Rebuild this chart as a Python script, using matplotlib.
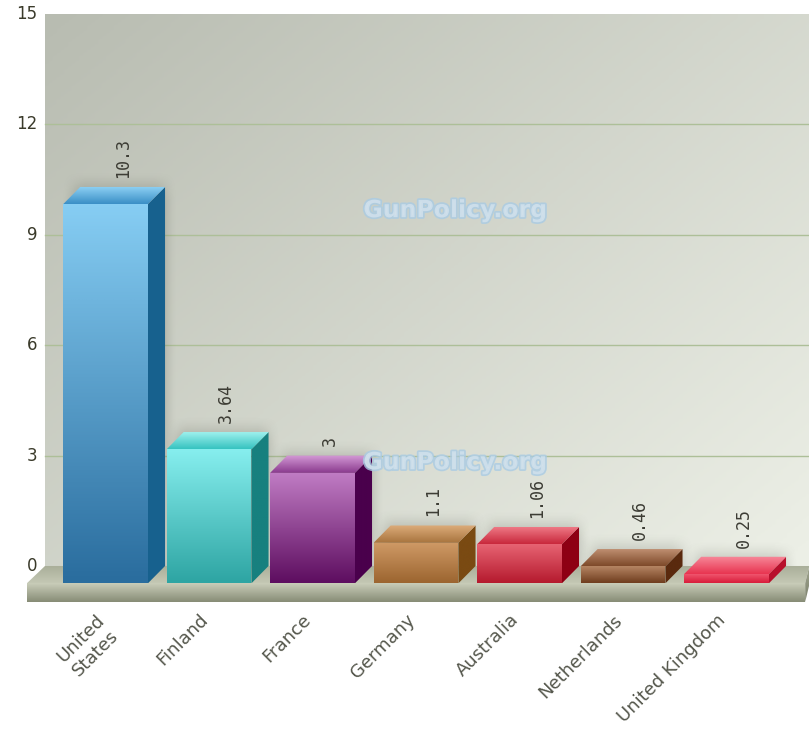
import matplotlib
matplotlib.use("Agg")
import matplotlib.pyplot as plt
import numpy as np
from matplotlib.patches import Polygon
from matplotlib.colors import LinearSegmentedColormap, to_rgb
import matplotlib.patheffects as pe

countries = ["United\nStates", "Finland", "France", "Germany", "Australia",
             "Netherlands", "United Kingdom"]
values = [10.3, 3.64, 3, 1.1, 1.06, 0.46, 0.25]
value_labels = ["10.3", "3.64", "3", "1.1", "1.06", "0.46", "0.25"]
yticks = [0, 3, 6, 9, 12, 15]

# colours per bar: (front top, front bottom, side, top face light, top face dark)
bar_colors = [
    ("#86cdf3", "#2a6d9e", "#17618e", "#8fd2f5", "#3a8fc6"),
    ("#86eeee", "#2ea5a3", "#17807f", "#a3f3f0", "#36c3c0"),
    ("#c07cc4", "#5e0e60", "#4a004c", "#d49ad6", "#8a3a8e"),
    ("#cf9a66", "#9c6530", "#7a4a12", "#dcac7a", "#a8743e"),
    ("#e86574", "#b51a2e", "#8e0014", "#f07c88", "#c8283c"),
    ("#b58563", "#6f3d1e", "#5a2a0e", "#c29274", "#7e4a2a"),
    ("#f25a72", "#d81c3a", "#b8102c", "#f7899a", "#e83450"),
]

W = 0.82     # front face width (category units)
DX = 0.165   # depth offset in x
DY = 0.47    # depth offset in value units

fig = plt.figure(figsize=(8.09, 7.34), dpi=100)
ax = fig.add_axes([25 / 809, 130 / 734, 784 / 809, 590 / 734])
ax.set_axis_off()

x_left_bg = -0.585
x_right = 6.80
x_left_floor = -0.76
x_right_floor = 6.76
floor_bottom = -0.98


def grad_face(verts, c_top, c_bot, z):
    poly = Polygon(verts, closed=True, facecolor="none", edgecolor="none")
    ax.add_patch(poly)
    xs, ys = zip(*verts)
    g = np.linspace(0, 1, 64).reshape(-1, 1)
    cmap = LinearSegmentedColormap.from_list("f", [c_bot, c_top])
    im = ax.imshow(g, cmap=cmap, extent=(min(xs), max(xs), min(ys), max(ys)),
                   origin="lower", aspect="auto", zorder=z, interpolation="bicubic")
    im.set_clip_path(poly)


def smooth(t):
    t = np.clip(t, 0, 1)
    return t * t * (3 - 2 * t)


def soft_shadow(xa, xb, ytop, z):
    ex, ey = 0.12, 0.45
    xs = np.linspace(xa - ex, xb + ex, 120)
    ys = np.linspace(0, ytop + ey, 240)
    X, Y = np.meshgrid(xs, ys)
    a = smooth((X - (xa - ex)) / (2 * ex)) * smooth(((xb + ex) - X) / (2 * ex))
    a = a * smooth(((ytop + ey) - Y) / (2 * ey)) * 0.32
    img = np.zeros((len(ys), len(xs), 4))
    img[..., :3] = to_rgb("#4a4e42")
    img[..., 3] = a
    ax.imshow(img, extent=(xs[0], xs[-1], ys[0], ys[-1]), origin="lower",
              aspect="auto", zorder=z, interpolation="bilinear")


# background gradient (darker top-left, lighter bottom-right)
gx = np.linspace(0, 1, 200)
gy = np.linspace(0, 1, 200)
GX, GY = np.meshgrid(gx, gy)
bg = 0.55 * GX + 0.45 * GY
bg_cmap = LinearSegmentedColormap.from_list("bg", ["#b8bcb1", "#edf0e7"])
ax.imshow(bg, cmap=bg_cmap, extent=(x_left_bg, x_right, 0, 15),
          origin="upper", aspect="auto", zorder=0)

# grid lines
for t in yticks[1:-1]:
    ax.plot([x_left_bg, x_right], [t, t], color="#adbf98", lw=1.0, zorder=1)

# y tick labels
for t in yticks:
    ax.text(-0.655, t, str(t), ha="right", va="center", fontsize=12,
            color="#3a3a2a", zorder=5)

# floor
grad_face([(x_left_bg, 0), (x_right, 0), (x_right_floor, -DY), (x_left_floor, -DY)],
          "#a8ad98", "#c4c8b4", 2)
grad_face([(x_left_floor, -DY), (x_right_floor, -DY), (x_right_floor, floor_bottom),
           (x_left_floor, floor_bottom)], "#c9cdb9", "#878c76", 2)
grad_face([(x_right_floor, -DY), (x_right, 0), (x_right, floor_bottom + DY),
           (x_right_floor, floor_bottom)], "#a0a590", "#7d826c", 2)

# bars
for i, (v, c) in enumerate(zip(values, bar_colors)):
    x0 = i - W / 2
    x1 = i + W / 2
    ftop = v - DY
    soft_shadow(x0 + DX * 0.6, x1 + DX, v, 2.5)
    # side face
    grad_face([(x1, -DY), (x1 + DX, 0), (x1 + DX, v), (x1, ftop)], c[2], c[2], 3)
    # front face
    grad_face([(x0, -DY), (x1, -DY), (x1, ftop), (x0, ftop)], c[0], c[1], 3)
    # top face
    grad_face([(x0, ftop), (x1, ftop), (x1 + DX, v), (x0 + DX, v)], c[3], c[4], 3)
    # value label
    ax.text(i + DX, v + 0.25, value_labels[i], rotation=90, ha="center", va="bottom",
            fontsize=12, family="DejaVu Sans Mono", color="#3c3c34", zorder=6)
    # category label
    ax.text(i - 0.1, -1.22, countries[i], rotation=45, rotation_mode="anchor",
            ha="right", va="top", multialignment="center", fontsize=13,
            color="#55574c", zorder=6)

# watermarks
for wy in [9.67, 2.82]:
    ax.text(3.38, wy, "GunPolicy.org", ha="center", va="center", fontsize=17,
            fontweight="bold", color="#d3e2ec", alpha=0.8, zorder=4,
            path_effects=[pe.withStroke(linewidth=2.5, foreground="#a9cbe4")])

ax.set_xlim(-0.778, 6.797)
ax.set_ylim(-1.033, 15)

fig.savefig("out.png", dpi=100)
